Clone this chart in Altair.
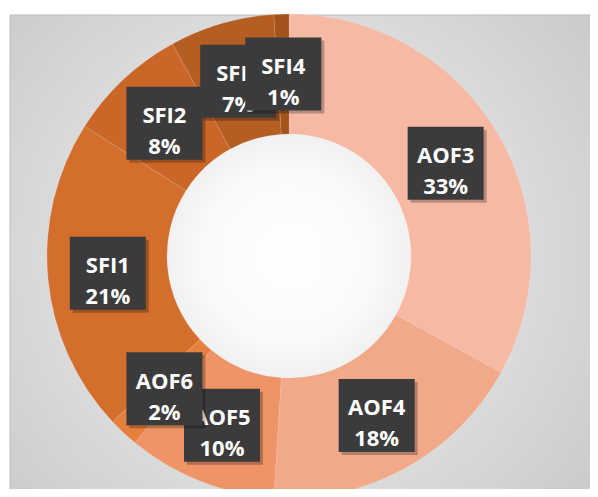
import math
import altair as alt
import pandas as pd

labels = ["AOF3", "AOF4", "AOF5", "AOF6", "SFI1", "SFI2", "SFI3", "SFI4"]
values = [33, 18, 10, 2, 21, 8, 7, 1]
colors = ["#F5B9A4", "#F2A989", "#EF9466", "#E6803F", "#D46E2C", "#C96628", "#B55E23", "#A3541D"]

W, H = 582, 481
CX, CY = 281, 248
R_OUT, R_IN = 242, 122
R_LAB = (R_OUT + R_IN) / 2
HW, HH = 38, 36.5
SH = 3

df = pd.DataFrame({"label": labels, "value": values, "idx": list(range(len(labels)))})
total = df["value"].sum()
mid = df["value"].cumsum() - df["value"] / 2
ang = mid / total * 2 * math.pi
df["lx"] = R_LAB * ang.apply(math.sin)
df["ly"] = R_LAB * ang.apply(math.cos)
df["x0"] = df["lx"] - HW
df["x1"] = df["lx"] + HW
df["y0"] = df["ly"] - HH
df["y1"] = df["ly"] + HH
df["sx0"] = df["x0"] + SH
df["sx1"] = df["x1"] + SH
df["sy0"] = df["y0"] - SH
df["sy1"] = df["y1"] - SH
df["txt"] = df["label"] + "\n" + df["value"].astype(str) + "%"

xs = alt.Scale(domain=[-CX, W - CX], nice=False, zero=False)
ys = alt.Scale(domain=[-(H - CY), CY], nice=False, zero=False)

BX0, BY0, BX1, BY1 = 2, 7, W + 10, H + 10
gx = (CX - BX0) / (BX1 - BX0)
gy = (CY - BY0) / (BY1 - BY0)

bg = alt.Chart(pd.DataFrame({"a": [0]})).mark_rect(
    fill=alt.RadialGradient(
        gradient="radial",
        stops=[alt.GradientStop(color="#ffffff", offset=0),
               alt.GradientStop(color="#fafafa", offset=0.2),
               alt.GradientStop(color="#e0e0e0", offset=0.45),
               alt.GradientStop(color="#c6c6c6", offset=1)],
        x1=gx, y1=gy, x2=gx, y2=gy, r1=0, r2=0.72),
    stroke="#bdbdbd", strokeWidth=1,
).encode(x=alt.value(BX0), x2=alt.value(BX1), y=alt.value(BY0), y2=alt.value(BY1))

arcs = alt.Chart(df).mark_arc(
    radius=R_OUT, radius2=R_IN, stroke="#ffffff", strokeWidth=0.6, strokeOpacity=0.18
).encode(
    theta=alt.Theta("value:Q", stack=True),
    color=alt.Color("label:N", scale=alt.Scale(domain=labels, range=colors), legend=None),
    order=alt.Order("idx:Q"),
    x=alt.value(CX), y=alt.value(CY),
)

layers = [bg, arcs]
for lab in labels:
    base = alt.Chart(df).transform_filter(alt.datum.label == lab)
    shadow = base.mark_rect(color="#000000", opacity=0.25).encode(
        x=alt.X("sx0:Q", scale=xs, axis=None), x2="sx1:Q",
        y=alt.Y("sy0:Q", scale=ys, axis=None), y2="sy1:Q")
    box = base.mark_rect(color="#3b3b3b").encode(
        x=alt.X("x0:Q", scale=xs, axis=None), x2="x1:Q",
        y=alt.Y("y0:Q", scale=ys, axis=None), y2="y1:Q")
    txt = base.mark_text(
        font="Open Sans", fontWeight="bold", fontSize=22, color="#ffffff",
        lineBreak="\n", lineHeight=31, align="center", baseline="middle", dy=-7,
    ).encode(
        x=alt.X("lx:Q", scale=xs, axis=None),
        y=alt.Y("ly:Q", scale=ys, axis=None),
        text="txt:N")
    layers += [shadow, box, txt]

chart = alt.layer(*layers).properties(
    width=W, height=H, autosize=alt.AutoSizeParams(type="none"), padding=0
).configure_view(stroke=None)

chart.save("out.html", embed_options={"renderer": "svg", "actions": False})
